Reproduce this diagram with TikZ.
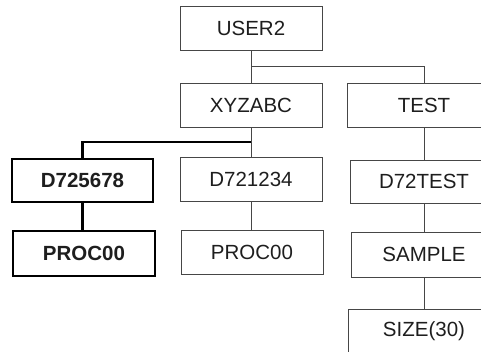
\documentclass[tikz,border=0pt]{standalone}
\usepackage{fontspec}
\setmainfont{Liberation Sans}
\definecolor{thinc}{RGB}{70,70,70}
\definecolor{txtc}{RGB}{30,30,30}
\begin{document}
\begin{tikzpicture}[x=1pt,y=-1pt,
  box/.style={draw=thinc,line width=0.9pt,inner sep=0pt,minimum height=44pt,text=txtc,font=\fontsize{20.5}{24}\selectfont},
  boldbox/.style={draw=black,line width=2.4pt,inner sep=0pt,minimum height=43pt,text=txtc,font=\fontsize{20.5}{24}\selectfont\bfseries},
  thinline/.style={draw=thinc,line width=0.9pt},
  thickline/.style={draw=black,line width=2.4pt}]
\useasboundingbox (0,0) rectangle (481,352);
\clip (0,0) rectangle (481,352);
\node[box,minimum width=142pt] (user) at (251,28) {USER2};
\node[box,minimum width=142pt] (xyz) at (251,105) {XYZABC};
\node[box,minimum width=154pt] (test) at (424,105) {TEST};
\node[boldbox,minimum width=141pt] (d725) at (82.5,180.5) {D725678};
\node[box,minimum width=142pt] (d721) at (251,179) {D721234};
\node[box,minimum width=148pt,minimum height=43pt] (d72t) at (424,181.5) {D72TEST};
\node[boldbox,minimum width=142pt,minimum height=45pt] (procb) at (84,253.5) {PROC00};
\node[box,minimum width=142pt] (proc) at (252,252) {PROC00};
\node[box,minimum width=146pt,minimum height=45pt] (sample) at (424,254.5) {SAMPLE};
\node[box,minimum width=152pt] (size) at (424,331) {SIZE(30)};
\coordinate (j1) at (251,66);
\coordinate (j2) at (251,142);
\draw[thinline] (user.south) -- (xyz.north);
\draw[thinline] (j1) -| (test.north);
\draw[thinline] (xyz.south) -- (d721.north);
\draw[thickline] (j2) -| (d725.north);
\draw[thickline] (d725.south) -- (d725.south |- procb.north);
\draw[thinline] (d721.south) -- (d721.south |- proc.north);
\draw[thinline] (test.south) -- (d72t.north);
\draw[thinline] (d72t.south) -- (sample.north);
\draw[thinline] (sample.south) -- (size.north);
\end{tikzpicture}
\end{document}
